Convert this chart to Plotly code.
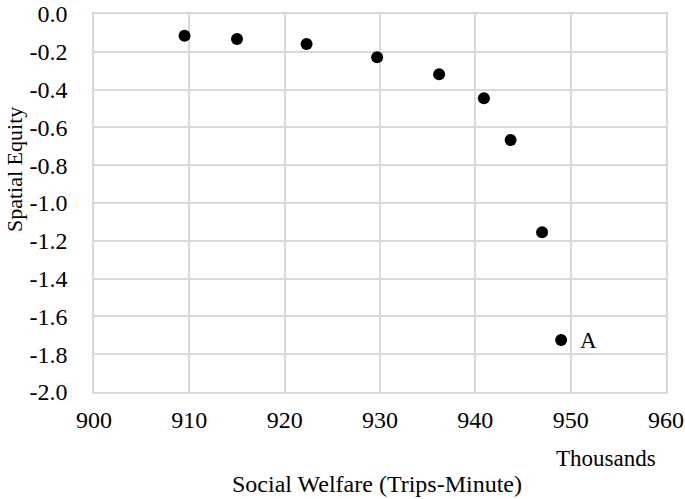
import plotly.graph_objects as go

welfare = [909.5, 915.0, 922.3, 929.7, 936.2, 940.9, 943.7, 947.0, 949.0]
equity = [-0.115, -0.132, -0.159, -0.229, -0.319, -0.446, -0.667, -1.155, -1.725]
x_ticks = [900, 910, 920, 930, 940, 950, 960]
y_ticks = [0.0, -0.2, -0.4, -0.6, -0.8, -1.0, -1.2, -1.4, -1.6, -1.8, -2.0]

font = "Liberation Serif, Times New Roman, serif"
grid = "#d9d9d9"

W, H = 685, 499
L, T, R, B = 94, 14, 685 - 666, 499 - 392
pw, ph = W - L - R, H - T - B


def px(x, y):
    """page pixel -> paper coords"""
    return (x - L) / pw, (H - B - y) / ph


fig = go.Figure()
fig.add_trace(go.Scatter(x=welfare, y=equity, mode="markers",
                         marker=dict(size=12, color="black"), showlegend=False,
                         hoverinfo="skip"))
fig.add_annotation(x=welfare[-1], y=equity[-1], text="A", showarrow=False,
                   xanchor="left", xshift=17, yshift=0,
                   font=dict(family=font, size=23, color="black"))
tx, ty = px(606, 458)
fig.add_annotation(x=tx, y=ty, xref="paper", yref="paper", text="Thousands",
                   showarrow=False, xanchor="center", yanchor="middle",
                   font=dict(family=font, size=23, color="black"))
sx, sy = px(377, 484)
fig.add_annotation(x=sx, y=sy, xref="paper", yref="paper", text="Social Welfare (Trips-Minute)",
                   showarrow=False, xanchor="center", yanchor="middle",
                   font=dict(family=font, size=24, color="black"))
ex, ey = px(14, 170)
fig.add_annotation(x=ex, y=ey, xref="paper", yref="paper", text="Spatial Equity",
                   showarrow=False, xanchor="center", yanchor="middle", textangle=-90,
                   font=dict(family=font, size=22, color="black"))

tickfont = dict(family=font, size=24, color="black")
fig.update_layout(
    width=W, height=H,
    margin=dict(l=L, r=R, t=T, b=B),
    paper_bgcolor="white", plot_bgcolor="white",
    font=dict(family=font, size=24, color="black"),
    xaxis=dict(range=[900, 960], tickvals=x_ticks, ticktext=[str(v) for v in x_ticks],
               showgrid=True, gridcolor=grid, gridwidth=1.5, zeroline=False,
               showline=True, linecolor=grid, linewidth=1.5, mirror=True,
               ticks="", ticklen=0, automargin=False, ticklabelstandoff=5,
               tickfont=tickfont),
    yaxis=dict(range=[-2.0, 0.0], tickvals=y_ticks, ticktext=[f"{v:.1f}" for v in y_ticks],
               showgrid=True, gridcolor=grid, gridwidth=1.5, zeroline=False,
               showline=True, linecolor=grid, linewidth=1.5, mirror=True,
               ticks="", ticklen=0, automargin=False, ticklabelstandoff=20,
               tickfont=tickfont),
)
fig.write_html("out.html", config={"displayModeBar": False},
               post_script="document.body.style.margin='0';document.body.style.overflow='hidden';")
